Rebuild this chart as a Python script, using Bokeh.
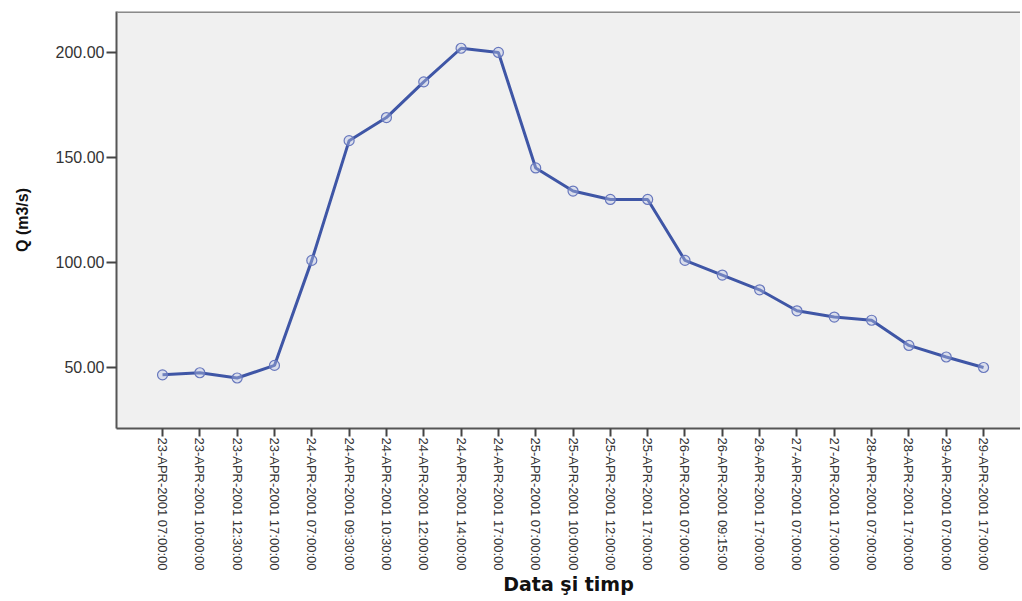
import math
from bokeh.plotting import figure
from bokeh.models import FixedTicker, Range1d, Span, NumeralTickFormatter, ColumnDataSource
from bokeh.embed import file_html
from bokeh.resources import INLINE

timestamps = [
    "23-APR-2001 07:00:00", "23-APR-2001 10:00:00", "23-APR-2001 12:30:00", "23-APR-2001 17:00:00",
    "24-APR-2001 07:00:00", "24-APR-2001 09:30:00", "24-APR-2001 10:30:00", "24-APR-2001 12:00:00",
    "24-APR-2001 14:00:00", "24-APR-2001 17:00:00",
    "25-APR-2001 07:00:00", "25-APR-2001 10:00:00", "25-APR-2001 12:00:00", "25-APR-2001 17:00:00",
    "26-APR-2001 07:00:00", "26-APR-2001 09:15:00", "26-APR-2001 17:00:00",
    "27-APR-2001 07:00:00", "27-APR-2001 17:00:00",
    "28-APR-2001 07:00:00", "28-APR-2001 17:00:00",
    "29-APR-2001 07:00:00", "29-APR-2001 17:00:00",
]
discharge = [46.5, 47.5, 45.0, 51.0, 101.0, 158.0, 169.0, 186.0, 202.0, 200.0,
             145.0, 134.0, 130.0, 130.0, 101.0, 94.0, 87.0, 77.0, 74.0, 72.5,
             60.5, 55.0, 50.0]
y_ticks = [50, 100, 150, 200]

idx = list(range(len(timestamps)))
src = ColumnDataSource(dict(x=idx, q=discharge, t=timestamps))

p = figure(width=1020, height=600, output_backend="svg", toolbar_location=None,
           x_range=Range1d(-1.233, 22.99), y_range=Range1d(20.95, 219.5),
           min_border_left=116, min_border_top=11, min_border_right=0, min_border_bottom=172)

p.background_fill_color = "#f0f0f0"
p.border_fill_color = "white"
p.outline_line_color = None
p.grid.visible = False

p.add_layout(Span(location=219.5, dimension="width", line_color="#8a8a8a", line_width=3))

p.line("x", "q", source=src, line_color="#3f56a6", line_width=3)
p.scatter("x", "q", source=src, size=10, marker="circle", line_color="#6878bd",
          line_width=1.2, fill_color="#b8c2e6", fill_alpha=0.4)

xa = p.xaxis[0]
xa.ticker = FixedTicker(ticks=idx)
xa.major_label_overrides = {i: t for i, t in enumerate(timestamps)}
xa.major_label_orientation = -math.pi / 2
xa.major_label_text_font = "Liberation Sans"
xa.major_label_text_font_size = "13px"
xa.major_label_text_color = "#333333"
xa.major_label_standoff = 1
xa.major_tick_in = 0
xa.major_tick_out = 8
xa.major_tick_line_width = 2
xa.major_tick_line_color = "#444444"
xa.minor_tick_line_color = None
xa.axis_line_color = "#555555"
xa.axis_line_width = 2
xa.axis_label = "Data şi timp"
xa.axis_label_text_font = "DejaVu Sans"
xa.axis_label_text_font_style = "bold"
xa.axis_label_text_font_size = "19px"
xa.axis_label_text_color = "#111111"
xa.axis_label_standoff = 0

ya = p.yaxis[0]
ya.ticker = FixedTicker(ticks=y_ticks)
ya.formatter = NumeralTickFormatter(format="0.00")
ya.major_label_text_font = "Liberation Sans"
ya.major_label_text_font_size = "16px"
ya.major_label_text_color = "#333333"
ya.major_label_standoff = 2
ya.major_tick_in = 0
ya.major_tick_out = 10
ya.major_tick_line_width = 2
ya.major_tick_line_color = "#444444"
ya.minor_tick_line_color = None
ya.axis_line_color = "#555555"
ya.axis_line_width = 2
ya.axis_label = "Q (m3/s)"
ya.axis_label_text_font = "Liberation Sans"
ya.axis_label_text_font_style = "bold"
ya.axis_label_text_font_size = "16px"
ya.axis_label_text_color = "#111111"
ya.axis_label_standoff = 22

open("out.html", "w").write(file_html(p, INLINE))
